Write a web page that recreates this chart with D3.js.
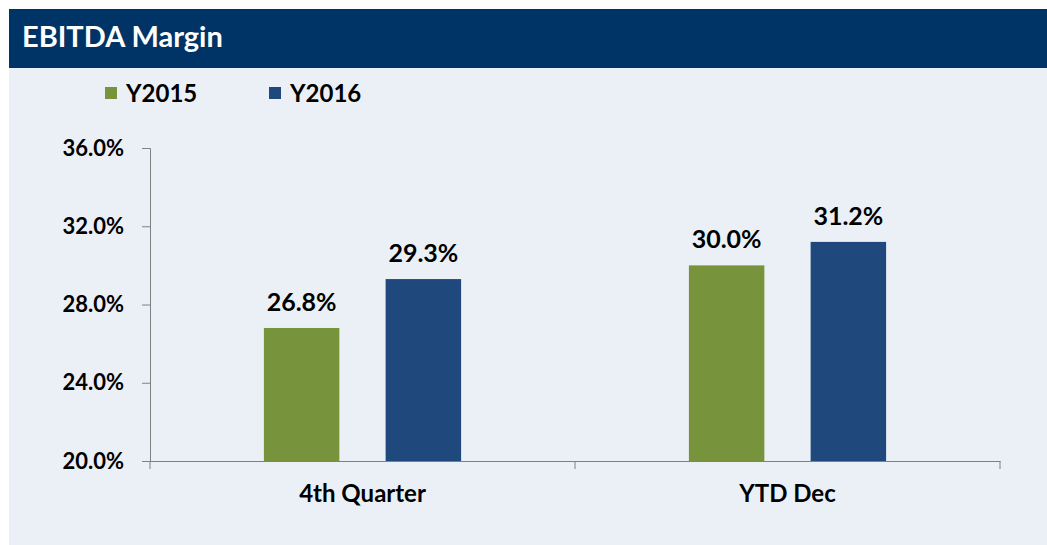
<!DOCTYPE html>
<html lang="en">
<head>
<meta charset="utf-8">
<script src="https://d3js.org/d3.v7.min.js"></script>
<style>
  body { margin: 0; background: #fff; }
  text { font-family: Lato, "Open Sans", sans-serif; font-weight: bold; }
  .axis path, .axis line { stroke: #808080; }
</style>
</head>
<body>
<svg width="1047" height="545"></svg>
<script>
// chart data
var categories = ["4th Quarter", "YTD Dec"];
var seriesNames = ["Y2015", "Y2016"];
var y2015 = [26.8, 30.0];
var y2016 = [29.3, 31.2];
var yTicks = [20, 24, 28, 32, 36];
var colors = ["#77933C", "#1F497D"];

var svg = d3.select("svg");

// panel + header
svg.append("rect").attr("x", 9).attr("y", 67).attr("width", 1038).attr("height", 478).attr("fill", "#EBF0F7");
svg.append("rect").attr("x", 9).attr("y", 9).attr("width", 1038).attr("height", 59).attr("fill", "#003366");
svg.append("text").attr("x", 22).attr("y", 47).attr("fill", "#fff")
  .style("font-size", "29px").text("EBITDA Margin");

// legend
var legend = svg.append("g").selectAll("g").data(seriesNames).enter().append("g")
  .attr("transform", function (d, i) { return "translate(" + (105 + i * 164) + ",0)"; });
legend.append("rect").attr("x", 0).attr("y", 87).attr("width", 12).attr("height", 12)
  .attr("fill", function (d, i) { return colors[i]; });
legend.append("text").attr("x", 21).attr("y", 102).style("font-size", "24px").attr("fill", "#000")
  .text(function (d) { return d; });

var plotLeft = 150, plotRight = 1000, plotTop = 148, plotBottom = 461;

var y = d3.scaleLinear().domain([20, 36]).range([plotBottom, plotTop]);
var x0 = d3.scaleBand().domain(categories).range([plotLeft, plotRight]).padding(0);
var x1 = d3.scaleBand().domain(seriesNames)
  .range([x0.bandwidth() * 0.268, x0.bandwidth() * 0.732]).paddingInner(0.38).paddingOuter(0);

// y axis
var yAxis = svg.append("g").attr("class", "axis")
  .attr("transform", "translate(" + plotLeft + ",0)")
  .call(d3.axisLeft(y).tickValues(yTicks).tickSize(8).tickPadding(18)
    .tickFormat(function (d) { return d.toFixed(1) + "%"; }));
yAxis.selectAll("text").style("font-size", "22px").attr("fill", "#000");

// x axis
var xAxis = svg.append("g").attr("class", "axis")
  .attr("transform", "translate(0," + plotBottom + ")")
  .call(d3.axisBottom(x0).tickSize(0).tickPadding(24));
xAxis.selectAll("text").style("font-size", "24px").attr("fill", "#000");
xAxis.selectAll(".sep").data([plotLeft, plotLeft + x0.step(), plotRight]).enter().append("line")
  .attr("x1", function (d) { return d; }).attr("x2", function (d) { return d; })
  .attr("y1", 0).attr("y2", 8).attr("stroke", "#808080");

// bars
var rows = categories.map(function (c, i) {
  return { cat: c, vals: [{ s: "Y2015", v: y2015[i], c: colors[0] }, { s: "Y2016", v: y2016[i], c: colors[1] }] };
});
var groups = svg.append("g").selectAll("g").data(rows).enter().append("g")
  .attr("transform", function (d) { return "translate(" + x0(d.cat) + ",0)"; });
groups.selectAll("rect").data(function (d) { return d.vals; }).enter().append("rect")
  .attr("x", function (d) { return x1(d.s); })
  .attr("y", function (d) { return y(d.v); })
  .attr("width", x1.bandwidth())
  .attr("height", function (d) { return plotBottom - y(d.v); })
  .attr("fill", function (d) { return d.c; });
groups.selectAll("text.lbl").data(function (d) { return d.vals; }).enter().append("text")
  .attr("class", "lbl")
  .attr("x", function (d) { return x1(d.s) + x1.bandwidth() / 2; })
  .attr("y", function (d) { return y(d.v) - 17; })
  .attr("text-anchor", "middle").style("font-size", "25px").attr("fill", "#000")
  .text(function (d) { return d.v.toFixed(1) + "%"; });
</script>
</body>
</html>
